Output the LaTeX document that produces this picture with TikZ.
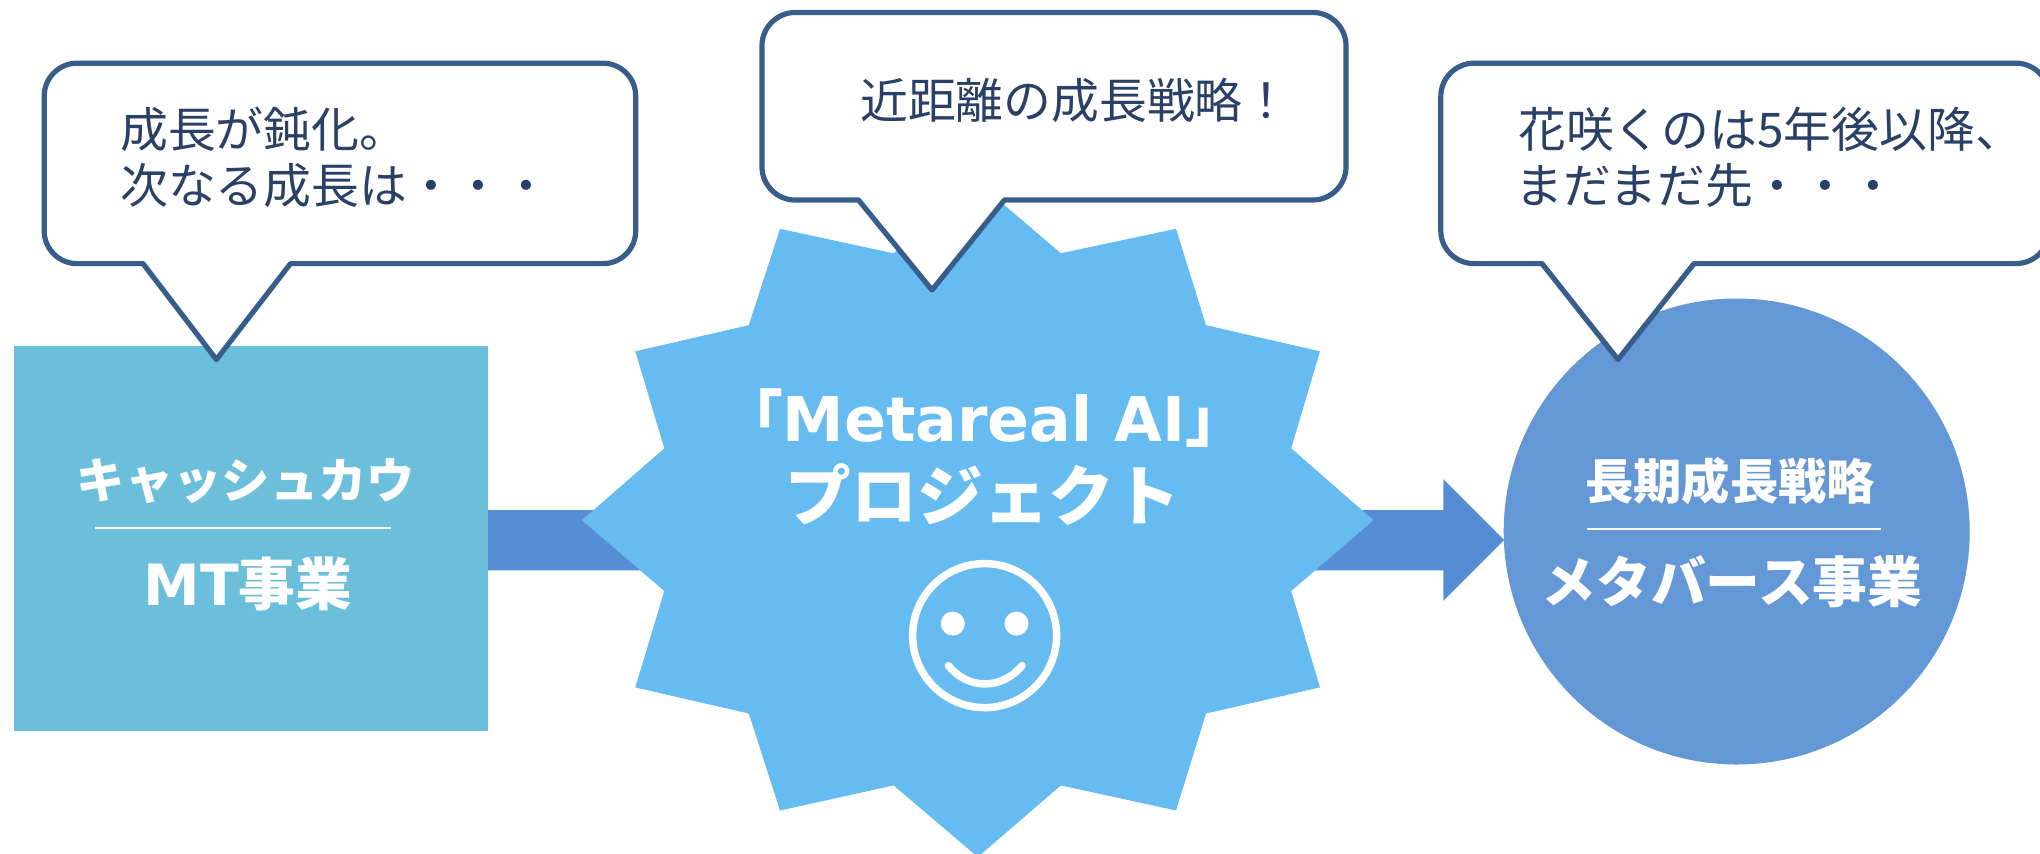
\documentclass[tikz,border=0pt]{standalone}
\usepackage{fontspec}
\setmainfont{Noto Sans CJK JP}
\newfontfamily\latinbold{DejaVu Sans Bold}
\definecolor{rectcol}{HTML}{6CBFDB}
\definecolor{starcol}{HTML}{66BBF0}
\definecolor{circcol}{HTML}{6497D6}
\definecolor{arrowcol}{HTML}{558ED5}
\definecolor{bubbleline}{HTML}{385D8A}
\definecolor{bubbletext}{HTML}{2A4066}
\tikzset{
  x=1bp,y=-1bp,
  bubble/.style={draw=bubbleline,line width=5.2bp,fill=white,line join=round},
  saytext/.style={anchor=base west,inner sep=0pt,text=bubbletext,font=\fontsize{48}{48}\selectfont},
  boxtext/.style={inner sep=0pt,text=white,font=\bfseries\fontsize{48.5}{48}\selectfont},
  whiterule/.style={draw=white,line width=2.4bp},
  faceline/.style={draw=white,line width=7.5bp,line cap=round},
}
\begin{document}
\begin{tikzpicture}
\useasboundingbox (0,0) rectangle (2040,854);
\clip (0,0) rectangle (2040,854);
% block arrow
\coordinate (a1) at (488,510);
\coordinate (a2) at (1443.3,510);
\coordinate (a3) at (1443.3,479.3);
\coordinate (a4) at (1504,540);
\coordinate (a5) at (1443.3,600.8);
\coordinate (a6) at (1443.3,570.3);
\coordinate (a7) at (488,570.3);
\fill[arrowcol] (a1) -- (a2) -- (a3) -- (a4) -- (a5) -- (a6) -- (a7) -- cycle;
% rectangle
\node[fill=rectcol,minimum width=474bp,minimum height=385.5bp,inner sep=0pt] (cash) at (251,538.7) {};
% circle
\node[circle,fill=circcol,minimum size=466bp,inner sep=0pt] (meta) at (1736.7,531.5) {};
% star
\fill[starcol] (977.8,182.5) -- (1060.9,253.3) -- (1176,228.8) -- (1206,325.2) -- (1320,351.3) -- (1291.2,448.3)
 -- (1373.5,520.2) -- (1291.2,591) -- (1320,687.4) -- (1206,713.5) -- (1176,810.5) -- (1060.9,785.4)
 -- (977.8,857) -- (893.6,785.4) -- (780,810.5) -- (748.8,713.5) -- (635.3,687.4) -- (664.3,591)
 -- (582,520.2) -- (664.3,448.3) -- (635.3,351.3) -- (748.8,325.2) -- (780,228.8) -- (893.6,253.3) -- cycle;
% bubble 1
\coordinate (t1a) at (143,263.6); \coordinate (t1b) at (216.4,359.5); \coordinate (t1c) at (290.5,263.6);
\draw[bubble] (t1b) -- (t1c) -- (603,263.6) .. controls (621,263.6) and (635.7,249) .. (635.7,231)
  -- (635.7,96) .. controls (635.7,78) and (621,63.2) .. (603,63.2)
  -- (77,63.2) .. controls (59,63.2) and (44.2,78) .. (44.2,96)
  -- (44.2,231) .. controls (44.2,249) and (59,263.6) .. (77,263.6) -- (t1a) -- cycle;
% bubble 2
\coordinate (t2a) at (858.5,200); \coordinate (t2b) at (932,290); \coordinate (t2c) at (1004.4,200);
\draw[bubble] (t2b) -- (t2c) -- (1313,200) .. controls (1331,200) and (1346,185) .. (1346,167)
  -- (1346,45.5) .. controls (1346,27.5) and (1331,12.5) .. (1313,12.5)
  -- (795,12.5) .. controls (777,12.5) and (762,27.5) .. (762,45.5)
  -- (762,167) .. controls (762,185) and (777,200) .. (795,200) -- (t2a) -- cycle;
% bubble 3
\coordinate (t3a) at (1542,263.6); \coordinate (t3b) at (1618,359.5); \coordinate (t3c) at (1694,263.6);
\draw[bubble] (t3b) -- (t3c) -- (2016,263.6) .. controls (2034,263.6) and (2049,249) .. (2049,231)
  -- (2049,96) .. controls (2049,78) and (2034,63.2) .. (2016,63.2)
  -- (1474,63.2) .. controls (1456,63.2) and (1440.8,78) .. (1440.8,96)
  -- (1440.8,231) .. controls (1440.8,249) and (1456,263.6) .. (1474,263.6) -- (t3a) -- cycle;
% bubble texts
\node[saytext] (s1a) at (120,147) {成長が鈍化。};
\node[saytext] (s1b) at (120,203) {次なる成長は・・・};
\node[saytext] (s2) at (860,118) {近距離の成長戦略！};
\node[saytext] (s3a) at (1518,147) {花咲くのは5年後以降、};
\node[saytext] (s3b) at (1515,203) {まだまだ先・・・};
% rectangle text
\node[boxtext] (c1) at (246,481) {キャッシュカウ};
\coordinate (c1l) at (95.4,528); \coordinate (c1r) at (391,528);
\draw[whiterule] (c1l) -- (c1r);
\node[boxtext,font=\bfseries\fontsize{57}{57}\selectfont] (c2) at (248,584) {{\latinbold MT}事業};
% star text
\node[boxtext,font=\bfseries\fontsize{62}{62}\selectfont] (p1) at (984,418) {「{\latinbold Metareal AI}」};
\node[boxtext,font=\bfseries\fontsize{66}{66}\selectfont] (p2) at (983,495) {プロジェクト};
% smiley
\node[circle,draw=white,line width=7.5bp,minimum size=144bp,inner sep=0pt] (face) at (984.6,635.6) {};
\node[circle,fill=white,minimum size=24bp,inner sep=0pt] (eyeL) at (952.8,623.6) {};
\node[circle,fill=white,minimum size=24bp,inner sep=0pt] (eyeR) at (1016.5,623.6) {};
\coordinate (mL) at (948.4,665.6); \coordinate (mR) at (1022,665.6);
\draw[faceline] (mL) .. controls (968,690) and (1002,690) .. (mR);
% circle text
\node[boxtext] (m1) at (1730,481) {長期成長戦略};
\coordinate (m1l) at (1586.5,529); \coordinate (m1r) at (1881,529);
\draw[whiterule] (m1l) -- (m1r);
\node[boxtext,font=\bfseries\fontsize{55}{55}\selectfont] (m2) at (1732,582) {メタバース事業};
\end{tikzpicture}
\end{document}
